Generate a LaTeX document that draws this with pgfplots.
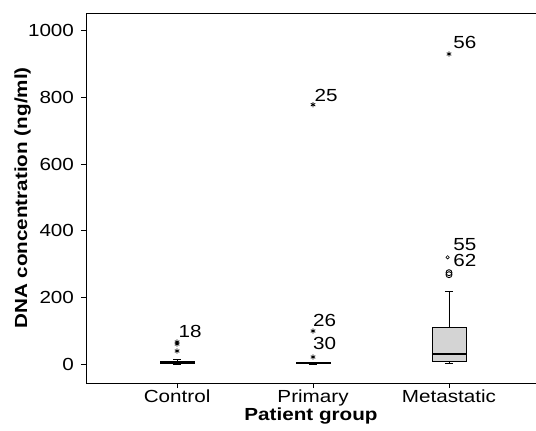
\documentclass[border=0pt]{standalone}
\usepackage{fontspec}
\setmainfont[FakeStretch=1.18]{Liberation Sans}
\usepackage{pgfplots}
\pgfplotsset{compat=1.18}
\usepgfplotslibrary{statistics}
\usetikzlibrary{calc}
\begin{document}
\fontsize{17.5bp}{20bp}\selectfont
\begin{tikzpicture}
\begin{axis}[
  scale only axis, width=450bp, height=370bp,
  xmin=0.33, xmax=3.64, ymin=-57, ymax=1053,
  xtick={1,2,3}, xticklabels={Control,Primary,Metastatic},
  ytick={0,200,400,600,800,1000},
  xtick pos=lower, ytick pos=left,
  tick align=outside, major tick length=5bp,
  tick style={black, line width=0.6pt},
  axis line style={black, line width=0.8pt},
  /pgf/number format/assume math mode=true,
  /pgf/number format/1000 sep={},
  ticklabel style={font=\fontsize{17.5bp}{20bp}\selectfont},
  yticklabel style={xshift=-1bp},
  xticklabel style={yshift=4.5bp},
  xlabel={\bfseries Patient group},
  ylabel={\bfseries DNA concentration (ng/ml)},
  label style={font=\fontsize{17.5bp}{20bp}\selectfont},
  xlabel style={at={(axis description cs:0.5,0)}, anchor=base, yshift=-37bp},
  ylabel style={at={(axis description cs:-0.141,0.5)}, anchor=center},
  clip=false,
  boxplot/draw direction=y,
  boxplot/every median/.style={line width=2pt},
]
\addplot[black, line width=0.8pt, fill=black!17, boxplot prepared={draw position=1, lower whisker=0, lower quartile=1, median=4, upper quartile=9, upper whisker=15, box extend=0.25, whisker extend=0.06}] coordinates {};
\addplot[black, line width=0.8pt, fill=black!17, boxplot prepared={draw position=2, lower whisker=0, lower quartile=0.5, median=2, upper quartile=4, upper whisker=6, box extend=0.25, whisker extend=0.06}] coordinates {};
\addplot[black, line width=0.8pt, fill=black!17, boxplot prepared={draw position=3, lower whisker=3, lower quartile=9, median=30, upper quartile=111, upper whisker=219, box extend=0.25, whisker extend=0.06}] coordinates {};
% outliers
\addplot[only marks, mark=asterisk, mark size=2.6pt, black, line width=0.8pt] coordinates {(1,39) (1,60) (1,66) (2,21) (2,99) (2,778) (3,930)};
\addplot[only marks, mark=o, mark size=3pt, black, line width=0.9pt] coordinates {(3,268) (3,274)};
\addplot[only marks, mark=o, mark size=1.7pt, black, line width=0.6pt] coordinates {(2.99,320)};
% case labels
\node[anchor=base west, inner sep=0pt] at (axis cs:1.01,81) {18};
\node[anchor=base west, inner sep=0pt] at (axis cs:2.01,786) {25};
\node[anchor=base west, inner sep=0pt] at (axis cs:2.0,114) {26};
\node[anchor=base west, inner sep=0pt] at (axis cs:2.0,45) {30};
\node[anchor=base west, inner sep=0pt] at (axis cs:3.03,945) {56};
\node[anchor=base west, inner sep=0pt] at (axis cs:3.03,341) {55};
\node[anchor=base west, inner sep=0pt] at (axis cs:3.03,293) {62};
\end{axis}
\pgfresetboundingbox
\path[use as bounding box] ($(current axis.south west)+(-86bp,-48bp)$) rectangle ($(current axis.north east)+(0bp,13bp)$);
\end{tikzpicture}
\end{document}
